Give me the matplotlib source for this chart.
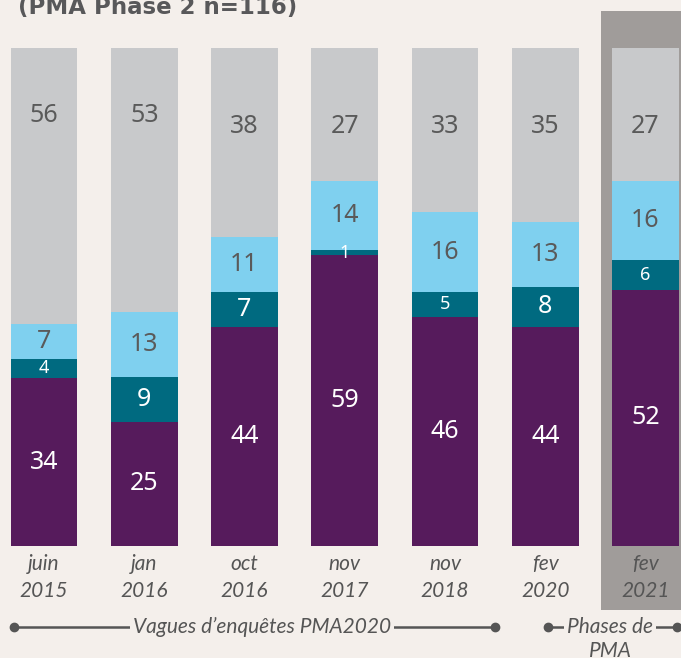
import matplotlib.pyplot as plt
from matplotlib.patches import Rectangle
import numpy as np

# Data
waves = ['juin\n2015', 'jan\n2016', 'oct\n2016', 'nov\n2017', 'nov\n2018', 'fev\n2020', 'fev\n2021']
purple = [34, 25, 44, 59, 46, 44, 52]
teal = [4, 9, 7, 1, 5, 8, 6]
lightblue = [7, 13, 11, 14, 16, 13, 16]
gray = [56, 53, 38, 27, 33, 35, 27]

colors = ['#561b5c', '#006a80', '#7fd0ef', '#c8c9cb']
text_colors = ['white', 'white', '#5a5a5a', '#5a5a5a']
bg = '#f4efeb'

W, H = 681, 658
fig = plt.figure(figsize=(W / 100, H / 100), dpi=100, facecolor=bg)

# axes placed so bars span pixel 48..546 vertically
ax = fig.add_axes([0, (H - 546) / H, 1, (546 - 48) / H])
ax.set_facecolor('none')
step = 100.25
ax.set_xlim(-44 / step, (W - 44) / step)
ax.set_ylim(0, 100)
for s in ax.spines.values():
    s.set_visible(False)
ax.set_yticks([])

x = np.arange(len(waves))
series = [purple, teal, lightblue, gray]
totals = np.sum(series, axis=0)

# shaded area behind the PMA phase bar
ax.add_patch(Rectangle((x[-1] - 0.445, -12.9), 1.0, 120.3, facecolor='#a09c9a',
                       edgecolor='none', clip_on=False, zorder=0))

bottom = np.zeros(len(waves))
for k, vals in enumerate(series):
    pct = np.array(vals) / totals * 100
    ax.bar(x, pct, width=0.668, bottom=bottom, color=colors[k], zorder=2)
    for i, v in enumerate(vals):
        yc = bottom[i] + pct[i] / 2
        if k == 3:
            # top labels sit near the top of the bar
            yc = 86.5 if pct[i] > 45 else 84.3
        fs = 18 if v >= 7 else 13
        ax.text(x[i], yc, str(v), ha='center', va='center', color=text_colors[k],
                family='Noto Sans', fontsize=fs, zorder=3)
    bottom += pct

ax.set_xticks(x)
ax.set_xticklabels(waves, family=['Liberation Sans Narrow', 'Lato'], style='italic',
                   fontsize=15, color='#555555', linespacing=1.4)
ax.tick_params(axis='x', length=0, pad=6)

# title, cut at the top edge
fig.text(18 / W, 1 - 14 / H, '(PMA Phase 2 n=116)', fontsize=16.5, fontweight='bold',
         color='#58585a', va='baseline', ha='left')


def px(xp, yp):
    return xp / W, 1 - yp / H


# bracket annotations under the axis
line_kw = dict(color='#555555', lw=1.8, marker='o', markersize=6, transform=fig.transFigure)
y_b = 627
fig.add_artist(plt.Line2D([px(14, 0)[0], px(495, 0)[0]], [px(0, y_b)[1]] * 2, **line_kw))
fig.add_artist(plt.Line2D([px(548, 0)[0], px(677, 0)[0]], [px(0, y_b)[1]] * 2, **line_kw))
lab_kw = dict(family=['Liberation Sans Narrow', 'Lato'], style='italic', fontsize=15,
              color='#555555', ha='center', va='center',
              bbox=dict(facecolor=bg, edgecolor='none', pad=2))
fig.text(*px(262, y_b), "Vagues d\u2019enqu\u00eates PMA2020", **lab_kw)
fig.text(*px(610, y_b), 'Phases de', **lab_kw)
fig.text(*px(610, 651), 'PMA', **lab_kw)

fig.savefig('out.png', dpi=100, facecolor=bg)
